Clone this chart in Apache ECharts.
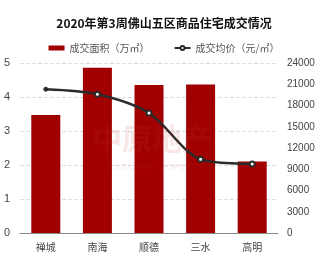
<!DOCTYPE html>
<html>
<head>
<meta charset="utf-8">
<script src="https://cdn.jsdelivr.net/npm/echarts@6/dist/echarts.min.js"></script>
<style>
html,body{margin:0;padding:0;background:#fff;}
#main{width:328px;height:259px;}
</style>
</head>
<body>
<div id="main"></div>
<script>
var areaNames = ['禅城', '南海', '顺德', '三水', '高明'];
var areaData = [3.47, 4.86, 4.35, 4.37, 2.10];     // 成交面积（万㎡）
var priceData = [20300, 19600, 16950, 10400, 9750]; // 成交均价（元/㎡）
var leftTicks = [0, 5, 1];
var rightTicks = [0, 24000, 3000];

var myChart = echarts.init(document.getElementById('main'));
var option = {
	backgroundColor: '#fff',
	animation: false,
	title: {
		text: '2020年第3周佛山五区商品住宅成交情况',
		left: 'center',
		top: 12,
		textStyle: {
			fontSize: 12,
			fontWeight: 'bold',
			color: '#111',
			fontFamily: 'Noto Sans CJK SC'
		}
	},
	legend: {
		top: 38,
		left: 'center',
		itemGap: 24,
		itemWidth: 16,
		itemHeight: 5,
		textStyle: {
			fontSize: 10,
			color: '#555',
			fontFamily: 'Noto Sans CJK SC'
		},
		data: [
			{name: '成交面积（万㎡）', icon: 'rect'},
			{name: '成交均价（元/㎡）'}
		]
	},
	grid: {
		left: 20,
		right: 50,
		top: 63,
		bottom: 26
	},
	graphic: [{
		type: 'text',
		left: 92,
		top: 124,
		style: {
			text: '中原地产',
			fontSize: 30,
			fontWeight: 'bold',
			fill: 'rgba(200,60,60,0.13)',
			fontFamily: 'Noto Sans CJK SC'
		},
		z: 10
	}, {
		type: 'text',
		left: 102,
		top: 163,
		style: {
			text: 'CENTALINE PROPERTY',
			fontSize: 9,
			fill: 'rgba(200,60,60,0.13)'
		},
		z: 10
	}],
	xAxis: {
		type: 'category',
		data: areaNames,
		axisTick: {show: false},
		axisLine: {lineStyle: {color: '#888'}},
		axisLabel: {
			color: '#444',
			fontSize: 10,
			margin: 9,
			fontFamily: 'Noto Sans CJK SC'
		}
	},
	yAxis: [{
		type: 'value',
		min: leftTicks[0],
		max: leftTicks[1],
		interval: leftTicks[2],
		axisLine: {show: false},
		axisTick: {show: false},
		axisLabel: {color: '#444', fontSize: 11, margin: 10},
		splitLine: {lineStyle: {color: '#ddd', type: 'dashed'}}
	}, {
		type: 'value',
		min: rightTicks[0],
		max: rightTicks[1],
		interval: rightTicks[2],
		axisLine: {show: false},
		axisTick: {show: false},
		axisLabel: {
			color: '#444',
			fontSize: 10,
			margin: 9,
			formatter: function (v) { return String(v); }
		},
		splitLine: {show: false}
	}],
	series: [{
		name: '成交面积（万㎡）',
		type: 'bar',
		yAxisIndex: 0,
		barWidth: 29,
		itemStyle: {color: '#a00000'},
		data: areaData
	}, {
		name: '成交均价（元/㎡）',
		type: 'line',
		yAxisIndex: 1,
		smooth: 0.3,
		symbol: 'emptyCircle',
		symbolSize: 5,
		lineStyle: {color: '#2b2b2b', width: 2.5},
		itemStyle: {color: '#2b2b2b', borderColor: '#2b2b2b', borderWidth: 1},
		data: priceData.map(function (v, i) {
			return i === 0 ? {value: v, symbol: 'circle', symbolSize: 4} : v;
		}),
		z: 5
	}]
};
myChart.setOption(option);
</script>
</body>
</html>
